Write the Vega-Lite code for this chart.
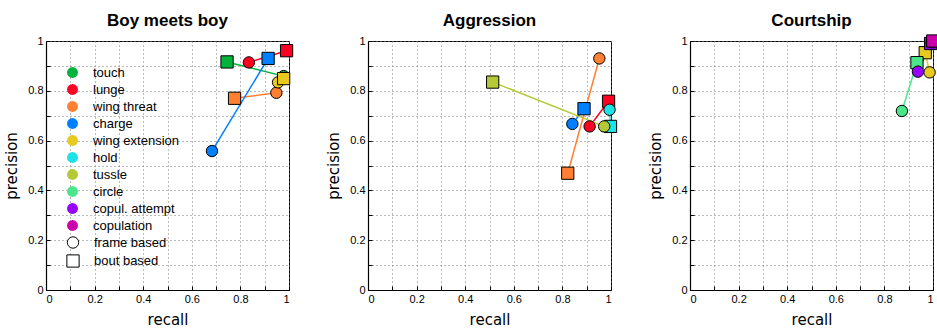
{
  "$schema": "https://vega.github.io/schema/vega-lite/v6.json",
  "padding": {"left": 4, "top": 12, "right": 4, "bottom": 4},
  "background": "white",
  "data": {"values": [
    {"panel": "Boy meets boy", "behavior": "touch", "type": "frame based", "recall": 0.978, "precision": 0.859, "z": 2},
    {"panel": "Boy meets boy", "behavior": "touch", "type": "bout based", "recall": 0.745, "precision": 0.916, "z": 3},
    {"panel": "Boy meets boy", "behavior": "lunge", "type": "frame based", "recall": 0.835, "precision": 0.914, "z": 4},
    {"panel": "Boy meets boy", "behavior": "lunge", "type": "bout based", "recall": 0.99, "precision": 0.961, "z": 5},
    {"panel": "Boy meets boy", "behavior": "wing threat", "type": "frame based", "recall": 0.948, "precision": 0.792, "z": 6},
    {"panel": "Boy meets boy", "behavior": "wing threat", "type": "bout based", "recall": 0.776, "precision": 0.77, "z": 7},
    {"panel": "Boy meets boy", "behavior": "charge", "type": "frame based", "recall": 0.683, "precision": 0.558, "z": 8},
    {"panel": "Boy meets boy", "behavior": "charge", "type": "bout based", "recall": 0.914, "precision": 0.93, "z": 9},
    {"panel": "Boy meets boy", "behavior": "wing extension", "type": "frame based", "recall": 0.955, "precision": 0.834, "z": 10},
    {"panel": "Boy meets boy", "behavior": "wing extension", "type": "bout based", "recall": 0.978, "precision": 0.849, "z": 11},
    {"panel": "Aggression", "behavior": "lunge", "type": "frame based", "recall": 0.912, "precision": 0.657, "z": 4},
    {"panel": "Aggression", "behavior": "lunge", "type": "bout based", "recall": 0.99, "precision": 0.758, "z": 5},
    {"panel": "Aggression", "behavior": "wing threat", "type": "frame based", "recall": 0.952, "precision": 0.93, "z": 6},
    {"panel": "Aggression", "behavior": "wing threat", "type": "bout based", "recall": 0.822, "precision": 0.469, "z": 7},
    {"panel": "Aggression", "behavior": "charge", "type": "frame based", "recall": 0.841, "precision": 0.667, "z": 8},
    {"panel": "Aggression", "behavior": "charge", "type": "bout based", "recall": 0.889, "precision": 0.728, "z": 9},
    {"panel": "Aggression", "behavior": "hold", "type": "frame based", "recall": 0.994, "precision": 0.724, "z": 12},
    {"panel": "Aggression", "behavior": "hold", "type": "bout based", "recall": 0.998, "precision": 0.657, "z": 13},
    {"panel": "Aggression", "behavior": "tussle", "type": "frame based", "recall": 0.972, "precision": 0.657, "z": 14},
    {"panel": "Aggression", "behavior": "tussle", "type": "bout based", "recall": 0.513, "precision": 0.835, "z": 15},
    {"panel": "Courtship", "behavior": "wing extension", "type": "frame based", "recall": 0.986, "precision": 0.874, "z": 10},
    {"panel": "Courtship", "behavior": "wing extension", "type": "bout based", "recall": 0.968, "precision": 0.953, "z": 11},
    {"panel": "Courtship", "behavior": "circle", "type": "frame based", "recall": 0.872, "precision": 0.719, "z": 16},
    {"panel": "Courtship", "behavior": "circle", "type": "bout based", "recall": 0.934, "precision": 0.913, "z": 17},
    {"panel": "Courtship", "behavior": "copul. attempt", "type": "frame based", "recall": 0.938, "precision": 0.877, "z": 18},
    {"panel": "Courtship", "behavior": "copul. attempt", "type": "bout based", "recall": 0.99, "precision": 0.99, "z": 19},
    {"panel": "Courtship", "behavior": "copulation", "type": "frame based", "recall": 0.995, "precision": 0.995, "z": 20},
    {"panel": "Courtship", "behavior": "copulation", "type": "bout based", "recall": 0.999, "precision": 1.0, "z": 21}
  ]},
  "facet": {
    "column": {
      "field": "panel",
      "sort": ["Boy meets boy", "Aggression", "Courtship"],
      "header": {"title": null, "labelFont": "Liberation Sans", "labelFontSize": 17, "labelFontWeight": "bold", "labelColor": "black", "labelPadding": 2}
    }
  },
  "spacing": 28,
  "resolve": {"axis": {"x": "independent", "y": "independent"}},
  "spec": {
    "width": 243,
    "height": 249,
    "encoding": {
      "x": {"field": "recall", "type": "quantitative", "title": "recall",
        "scale": {"domain": [0, 1], "nice": false, "zero": true},
        "axis": {"values": [0, 0.1, 0.2, 0.3, 0.4, 0.5, 0.6, 0.7, 0.8, 0.9, 1], "labelExpr": "round(datum.value*10) % 2 == 0 ? format(datum.value, '~g') : ''"}},
      "y": {"field": "precision", "type": "quantitative", "title": "precision",
        "scale": {"domain": [0, 1], "nice": false, "zero": true},
        "axis": {"values": [0, 0.1, 0.2, 0.3, 0.4, 0.5, 0.6, 0.7, 0.8, 0.9, 1], "labelExpr": "round(datum.value*10) % 2 == 0 ? format(datum.value, '~g') : ''"}}
    },
    "layer": [
      {
        "mark": {"type": "line", "strokeWidth": 1.5},
        "encoding": {
          "stroke": {"field": "behavior", "type": "nominal",
            "scale": {"domain": ["touch", "lunge", "wing threat", "charge", "wing extension", "hold", "tussle", "circle", "copul. attempt", "copulation"],
              "range": ["#00B33C", "#FF0022", "#FF8033", "#0080FF", "#E8C920", "#1DE3E6", "#B5C936", "#4CE68A", "#9900FF", "#CC00AA"]}},
          "detail": {"field": "behavior"}
        }
      },
      {
        "mark": {"type": "point", "filled": true, "stroke": "black", "strokeWidth": 1, "opacity": 1},
        "encoding": {
          "color": {"field": "behavior", "type": "nominal",
            "scale": {"domain": ["touch", "lunge", "wing threat", "charge", "wing extension", "hold", "tussle", "circle", "copul. attempt", "copulation"],
              "range": ["#00B33C", "#FF0022", "#FF8033", "#0080FF", "#E8C920", "#1DE3E6", "#B5C936", "#4CE68A", "#9900FF", "#CC00AA"]},
            "legend": {"orient": "none", "legendX": 20, "legendY": 25, "title": null, "symbolType": "circle", "symbolSize": 120, "symbolStrokeWidth": 0, "symbolOpacity": 1, "labelFont": "Liberation Sans", "labelFontSize": 13, "labelColor": "black", "labelOffset": 14, "rowPadding": 3}},
          "shape": {"field": "type", "type": "nominal",
            "scale": {"domain": ["frame based", "bout based"], "range": ["circle", "square"]},
            "legend": {"orient": "none", "legendX": 20, "legendY": 195, "title": null, "symbolFillColor": "white", "symbolStrokeColor": "black", "symbolStrokeWidth": 1, "symbolOpacity": 1, "labelFont": "Liberation Sans", "labelFontSize": 13, "labelColor": "black", "labelOffset": 14, "rowPadding": 1,
              "encode": {"symbols": {"enter": {"fill": {"value": "white"}, "stroke": {"value": "black"}}, "update": {"fill": {"value": "white"}, "stroke": {"value": "black"}, "strokeWidth": {"value": 1}}}}}},
          "size": {"field": "type", "type": "nominal", "scale": {"domain": ["frame based", "bout based"], "range": [130, 150]}},
          "order": {"field": "z", "type": "quantitative"}
        }
      }
    ]
  },
  "config": {
    "view": {"stroke": "black", "strokeWidth": 1},
    "legend": {"symbolBaseFillColor": "white", "symbolBaseStrokeColor": "black"},
    "axis": {
      "grid": true, "gridColor": "#777", "gridDash": [1, 3], "gridWidth": 1,
      "domainColor": "black", "domainWidth": 1.2,
      "ticks": true, "tickColor": "black", "tickSize": -4, "labelPadding": 7,
      "labelFont": "Liberation Sans", "labelFontSize": 11, "labelColor": "black",
      "titleFont": "DejaVu Sans", "titleFontSize": 15, "titleFontWeight": "normal", "titleColor": "black", "titlePadding": 8
    }
  }
}
